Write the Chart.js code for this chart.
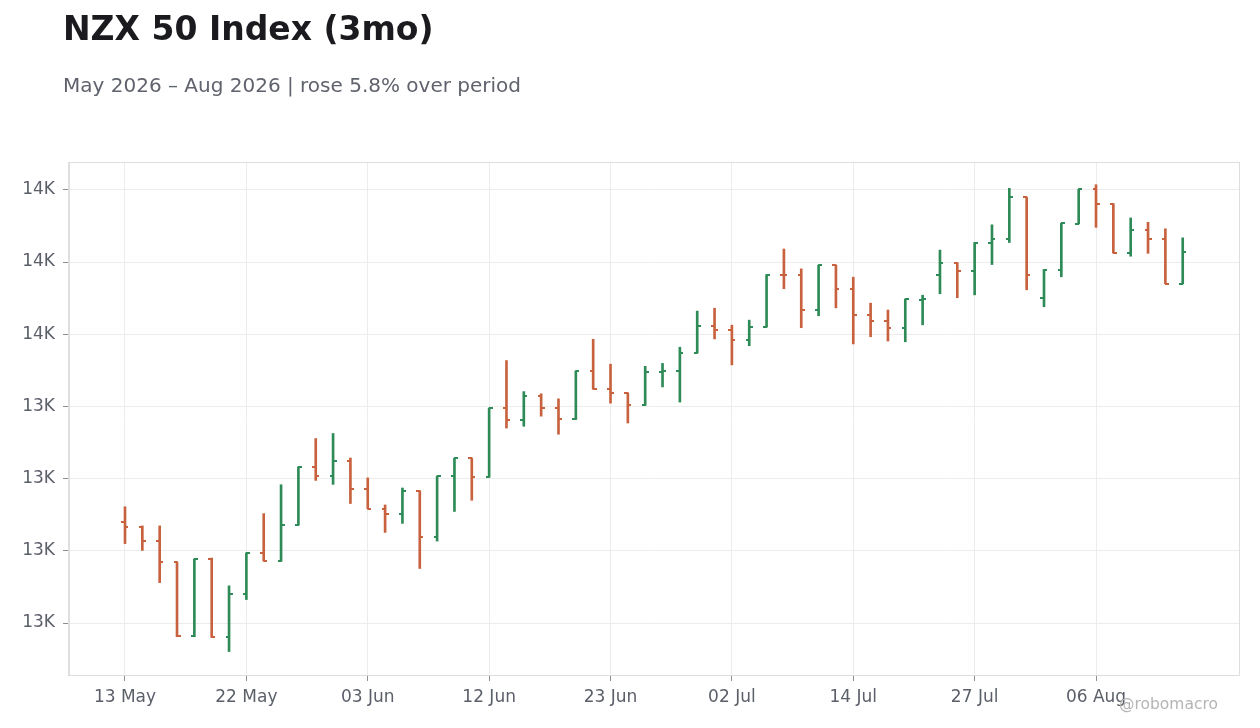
<!DOCTYPE html>
<html><head><meta charset="utf-8">
<script src="https://cdn.jsdelivr.net/npm/chart.js@4.4.1/dist/chart.umd.min.js"></script>
<style>
html,body{margin:0;padding:0;background:#fff;}
#wrap{position:relative;width:1260px;height:728px;overflow:hidden;font-family:"DejaVu Sans",sans-serif;}
#title{position:absolute;left:63px;top:12px;font-size:33px;line-height:33px;font-weight:bold;color:#1b1b1f;white-space:nowrap;}
#subtitle{position:absolute;left:63px;top:75px;font-size:20px;line-height:20px;color:#60636d;white-space:nowrap;}
#wm{position:absolute;left:1119px;top:697px;font-size:15.5px;line-height:15.5px;color:#b5b5b5;white-space:nowrap;}
canvas{position:absolute;left:0;top:0;}
</style></head>
<body><div id="wrap">
<canvas id="c" width="1260" height="728"></canvas>
<div id="title">NZX 50 Index (3mo)</div>
<div id="subtitle">May 2026 – Aug 2026 | rose 5.8% over period</div>
<div id="wm">@robomacro</div>
</div>
<script>
const dates = ["13 May","14 May","15 May","18 May","19 May","20 May","21 May","22 May","25 May","26 May",
"27 May","28 May","29 May","02 Jun","03 Jun","04 Jun","05 Jun","08 Jun","09 Jun","10 Jun",
"11 Jun","12 Jun","15 Jun","16 Jun","17 Jun","18 Jun","19 Jun","22 Jun","23 Jun","24 Jun",
"25 Jun","26 Jun","29 Jun","30 Jun","01 Jul","02 Jul","03 Jul","06 Jul","07 Jul","08 Jul",
"09 Jul","13 Jul","14 Jul","15 Jul","16 Jul","17 Jul","20 Jul","23 Jul","24 Jul","27 Jul",
"28 Jul","29 Jul","30 Jul","03 Aug","04 Aug","05 Aug","06 Aug","07 Aug","10 Aug","11 Aug",
"12 Aug","13 Aug"];
const opens = [13081,13065,13026,12968,12764,12976,12761,12879,12993,12972,
13072,13231,13208,13248,13172,13117,13103,13165,13039,13206,
13256,13204,13395,13362,13429,13395,13364,13498,13448,13437,
13404,13495,13497,13548,13623,13612,13584,13620,13765,13764,
13668,13791,13725,13653,13637,13618,13696,13765,13798,13775,
13854,13865,13979,13701,13779,13906,14001,13961,13825,13889,
13865,13740];
const highs = [13122,13069,13069,12969,12977,12980,12903,12994,13103,13183,
13232,13311,13325,13257,13202,13127,13174,13166,13206,13256,
13256,13395,13527,13441,13435,13421,13498,13586,13517,13437,
13511,13519,13564,13664,13672,13625,13639,13765,13836,13781,
13791,13791,13758,13686,13667,13697,13708,13833,13798,13854,
13903,14004,13979,13779,13907,14001,14014,13961,13922,13910,
13892,13867];
const lows = [13020,13001,12912,12762,12762,12760,12721,12865,12972,12971,
13071,13195,13184,13131,13117,13051,13076,12951,13027,13109,
13140,13204,13340,13345,13373,13323,13364,13448,13409,13354,
13403,13454,13412,13548,13587,13515,13568,13620,13726,13618,
13651,13673,13573,13593,13581,13579,13626,13712,13701,13709,
13793,13854,13723,13676,13759,13906,13896,13825,13816,13824,
13740,13740];
const closes = [13065,13026,12968,12764,12977,12761,12879,12993,12972,13072,
13231,13208,13248,13172,13117,13103,13165,13039,13206,13256,
13204,13395,13362,13429,13395,13364,13498,13448,13437,13404,
13495,13497,13548,13623,13612,13584,13620,13765,13764,13668,
13791,13725,13653,13637,13618,13697,13698,13798,13775,13854,
13865,13979,13765,13779,13907,14001,13961,13825,13889,13865,
13740,13829];
const xTickIdx = [0,7,14,21,28,35,42,49,56];
const yTickValues = [12800,13000,13200,13400,13600,13800,14000];

const UP = '#2e8b57', DOWN = '#c8623e';
const isUp = i => closes[i] >= opens[i];

function tickImg(color, side){
  const c = document.createElement('canvas');
  c.width = 7; c.height = 2;
  const g = c.getContext('2d');
  g.fillStyle = color;
  if (side === 'open') g.fillRect(0,0,4,2); else g.fillRect(3,0,4,2);
  return c;
}
const imgs = {
  openUp: tickImg(UP,'open'), openDown: tickImg(DOWN,'open'),
  closeUp: tickImg(UP,'close'), closeDown: tickImg(DOWN,'close')
};
const idx = dates.map((d,i)=>i);

const framePlugin = {
  id:'frame',
  beforeDatasetsDraw(chart){
    const a = chart.chartArea, ctx = chart.ctx;
    ctx.save();
    ctx.strokeStyle = '#dedede'; ctx.lineWidth = 1;
    ctx.strokeRect(Math.round(a.left)-0.5, Math.round(a.top)+0.5, Math.round(a.right-a.left)+1, Math.round(a.bottom-a.top));
    ctx.restore();
  }
};

new Chart(document.getElementById('c'), {
  type:'bar',
  data:{
    datasets:[
      { type:'bar', label:'HL', data: idx.map(i=>({x:i, y:[lows[i], highs[i]]})),
        backgroundColor: idx.map(i=> isUp(i)?UP:DOWN), borderWidth:0, barThickness:2, grouped:false, order:2 },
      { type:'line', label:'Open', showLine:false, data: idx.map(i=>({x:i, y:opens[i]})),
        pointStyle: ctx => isUp(ctx.dataIndex)?imgs.openUp:imgs.openDown, pointRadius:3, pointHoverRadius:3, order:1 },
      { type:'line', label:'Close', showLine:false, data: idx.map(i=>({x:i, y:closes[i]})),
        pointStyle: ctx => isUp(ctx.dataIndex)?imgs.closeUp:imgs.closeDown, pointRadius:3, pointHoverRadius:3, order:1 }
    ]
  },
  options:{
    responsive:false, animation:false, devicePixelRatio:1,
    layout:{padding:{top:162, right:21, bottom:0, left:0}},
    plugins:{legend:{display:false}, tooltip:{enabled:false}, title:{display:false}},
    scales:{
      x:{ type:'linear', min:-3.2296, max:64.246, offset:false,
        afterBuildTicks: s => { s.ticks = xTickIdx.map(v=>({value:v})); },
        afterFit: s => { s.height = 53; },
        ticks:{ autoSkip:false, maxRotation:0, padding:6, color:'#5b5f69',
          font:{family:'"DejaVu Sans", sans-serif', size:17},
          callback: v => dates[v] },
        grid:{ offset:false, color:'#ececec', tickColor:'#8a8e96', tickLength:6, lineWidth:1, drawTicks:true },
        border:{ display:true, color:'#dedede' }
      },
      y:{ type:'linear', min:12656, max:14077,
        afterBuildTicks: s => { s.ticks = yTickValues.map(v=>({value:v})); },
        afterFit: s => { s.width = 69; },
        ticks:{ padding:8, color:'#5b5f69', font:{family:'"DejaVu Sans", sans-serif', size:17},
          callback: v => Math.round(v/1000) + 'K' },
        grid:{ offset:false, color:'#ececec', tickColor:'#8a8e96', tickLength:6, lineWidth:1, drawTicks:true },
        border:{ display:true, color:'#dedede' }
      }
    }
  },
  plugins:[framePlugin]
});
</script>
</body></html>
